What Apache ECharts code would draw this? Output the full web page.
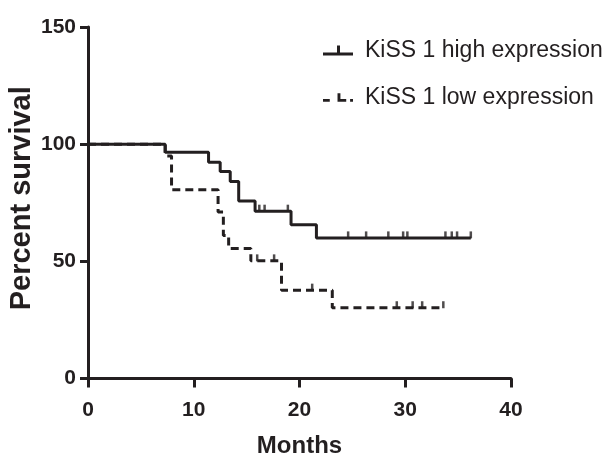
<!DOCTYPE html>
<html><head><meta charset="utf-8">
<script src="https://cdn.jsdelivr.net/npm/echarts@6/dist/echarts.min.js"></script>
<style>html,body{margin:0;padding:0;background:#fff}#c{width:606px;height:457px}</style>
</head><body><div id="c"></div>
<script>
// KiSS 1 high expression: event times (months) and survival (%)
var highTimes = [0, 7.3, 11.4, 12.5, 13.45, 14.25, 15.8, 19.2, 21.6, 36.2];
var highSurv  = [100, 96.5, 92.3, 88.3, 84.1, 75.8, 71.4, 65.6, 60, 60];
var highCensorTimes = [16.2, 16.7, 18.9, 24.6, 26.3, 28.4, 29.8, 30.2, 33.8, 34.4, 34.9, 36.2];
var highCensorSurv  = [71.4, 71.4, 71.4, 60, 60, 60, 60, 60, 60, 60, 60, 60];
// KiSS 1 low expression
var lowTimes = [0, 7.3, 7.9, 12.3, 12.8, 13.3, 15.4, 18.3, 23.1, 33.6];
var lowSurv  = [100, 95, 80.5, 71, 61, 55.5, 50.2, 37.7, 30.2, 30.2];
var lowCensorTimes = [16.0, 17.6, 21.2, 29.2, 30.7, 31.6, 33.6];
var lowCensorSurv  = [50.2, 50.2, 37.7, 30.2, 30.2, 30.2, 30.2];
var xTicks = [0, 10, 20, 30, 40];
var yTicks = [0, 50, 100, 150];
var seriesNames = ['KiSS 1 high expression', 'KiSS 1 low expression'];

function pairs(a, b) { return a.map(function (t, i) { return [t, b[i]]; }); }
var ink = '#231f20';
var fam = "'Liberation Sans',Arial,sans-serif";
var chart = echarts.init(document.getElementById('c'), null, {renderer: 'canvas'});
chart.setOption({
  animation: false,
  backgroundColor: '#fff',
  grid: {left: 88, right: 95, top: 27, bottom: 78.5, containLabel: false, outerBoundsMode: 'none'},
  legend: {
    orient: 'vertical', left: 318, top: 34, itemGap: 24, itemWidth: 30, itemHeight: 10,
    textStyle: {fontFamily: fam, fontSize: 23, color: ink, padding: [0,0,0,7]},
    data: [
      {name: seriesNames[0], icon: 'path://M0,7 L30,7 L30,10 L0,10 Z M14,0 L17,0 L17,7 L14,7 Z'},
      {name: seriesNames[1], icon: 'path://M0,7 L7,7 L7,10 L0,10 Z M15,1 L18,1 L18,7 L24,7 L24,10 L15,10 Z M28,7 L31,7 L31,10 L28,10 Z'}
    ],
    itemStyle: {color: ink, borderWidth: 0},
    lineStyle: {width: 0}
  },
  xAxis: {
    type: 'value', min: xTicks[0], max: xTicks[xTicks.length - 1], interval: 10,
    name: 'Months', nameLocation: 'middle', nameGap: 56, nameMoveOverlap: false,
    nameTextStyle: {fontFamily: fam, fontWeight: 'bold', fontSize: 24, color: ink},
    axisLine: {lineStyle: {color: ink, width: 3}},
    axisTick: {show: true, length: 9, lineStyle: {color: ink, width: 3}},
    axisLabel: {margin: 21, fontFamily: fam, fontWeight: 'bold', fontSize: 21, color: ink},
    splitLine: {show: false}
  },
  yAxis: {
    type: 'value', min: yTicks[0], max: yTicks[yTicks.length - 1], interval: 50,
    name: 'Percent survival', nameLocation: 'middle', nameGap: 52, nameRotate: 90, nameMoveOverlap: false,
    nameTextStyle: {fontFamily: fam, fontWeight: 'bold', fontSize: 29, color: ink, padding: [0,0,0,9]},
    axisLine: {show: true, lineStyle: {color: ink, width: 3}},
    axisTick: {show: true, length: 8, lineStyle: {color: ink, width: 3}},
    axisLabel: {margin: 12, fontFamily: fam, fontWeight: 'bold', fontSize: 21, color: ink},
    splitLine: {show: false}
  },
  series: [
    {name: seriesNames[0], type: 'line', step: 'end', data: pairs(highTimes, highSurv), showSymbol: false, symbol: 'none',
     lineStyle: {color: ink, width: 3}, itemStyle: {color: ink}},
    {name: seriesNames[1], type: 'line', step: 'end', data: pairs(lowTimes, lowSurv), showSymbol: false, symbol: 'none',
     lineStyle: {color: ink, width: 3, type: [8, 5]}, itemStyle: {color: ink}},
    {name: seriesNames[0], type: 'scatter', data: pairs(highCensorTimes, highCensorSurv), symbol: 'rect',
     symbolSize: [2.5, 7], symbolOffset: [0, -3], itemStyle: {color: ink}},
    {name: seriesNames[1], type: 'scatter', data: pairs(lowCensorTimes, lowCensorSurv), symbol: 'rect',
     symbolSize: [2.5, 7], symbolOffset: [0, -3], itemStyle: {color: ink}}
  ]
});
</script></body></html>
